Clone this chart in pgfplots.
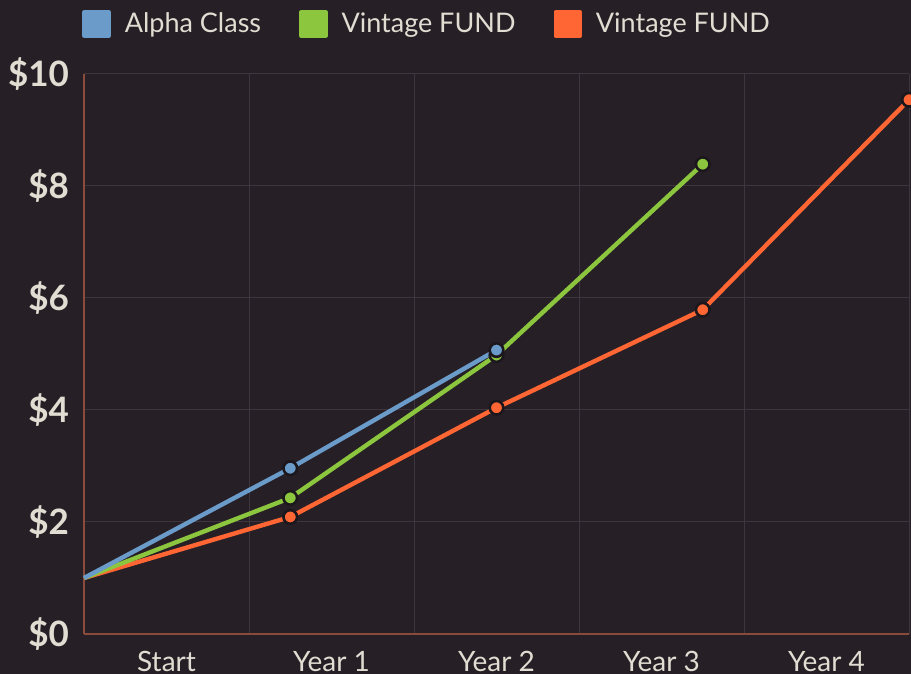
\documentclass[border=0pt]{standalone}
\usepackage{pgfplots}
\pgfplotsset{compat=1.18}
\usepackage{fontspec}
\setmainfont{Lato}
\definecolor{bg}{HTML}{261F26}
\definecolor{gridc}{HTML}{3E353F}
\definecolor{axc}{HTML}{8A4B3C}
\definecolor{txt}{HTML}{E2DDD2}
\definecolor{cblue}{HTML}{6A9BC9}
\definecolor{cgreen}{HTML}{8CC63F}
\definecolor{corange}{HTML}{FF6633}
\definecolor{mk}{HTML}{1C171C}
\begin{document}
\begin{tikzpicture}
\fill[bg] (0,0) rectangle (455.5pt,337pt);
\begin{axis}[
  scale only axis, width=412.5pt, height=280pt,
  at={(42pt,20pt)}, anchor=south west,
  xmin=0, xmax=4, ymin=0, ymax=10,
  axis x line*=bottom, axis y line*=left,
  axis line style={axc, line width=0.8pt, -},
  xtick={0.4,1.2,2.0,2.8,3.6},
  xticklabels={Start, Year 1, Year 2, Year 3, Year 4},
  minor xtick={0,0.8,1.6,2.4,3.2,4},
  xminorgrids=true,
  ytick={0,2,4,6,8,10},
  yticklabels={\$0,\$2,\$4,\$6,\$8,\$10},
  ymajorgrids=true,
  grid style={gridc, line width=0.5pt},
  minor grid style={gridc, line width=0.5pt},
  major tick length=0pt, minor tick length=0pt,
  tick style={draw=none},
  x tick label style={font=\fontsize{14}{16}\selectfont, text=txt, yshift=-5pt},
  y tick label style={font=\fontsize{17.5}{20}\selectfont\bfseries, text=txt, xshift=-4pt},
  clip=false,
  reverse legend,
  legend columns=3,
  legend style={at={(rel axis cs:0,1)}, anchor=west, yshift=25pt, xshift=-1pt,
    draw=none, fill=none, inner sep=0pt, text=txt,
    font=\fontsize{13.5}{15}\selectfont,
    /tikz/every odd column/.append style={column sep=5pt},
    /tikz/every even column/.append style={column sep=17pt}},
  legend image code/.code={\fill (0pt,-6pt) rectangle (12pt,6pt);},
  every axis plot/.append style={line width=2.2pt, line join=round},
]
\addplot[color=corange, mark=*, mark indices={2,3,4,5},
  mark options={draw=mk, fill=corange, line width=1.3pt, mark size=3.4pt}]
  coordinates {(0,1.0) (1,2.09) (2,4.04) (3,5.79) (4,9.54)};
\addlegendentry{Vintage FUND}
\addplot[color=cgreen, mark=*, mark indices={2,3,4},
  mark options={draw=mk, fill=cgreen, line width=1.3pt, mark size=3.4pt}]
  coordinates {(0,1.0) (1,2.43) (2,4.98) (3,8.39)};
\addlegendentry{Vintage FUND}
\addplot[color=cblue, mark=*, mark indices={2,3},
  mark options={draw=mk, fill=cblue, line width=1.3pt, mark size=3.4pt}]
  coordinates {(0,1.0) (1,2.96) (2,5.07)};
\addlegendentry{Alpha Class}
\end{axis}
\pgfresetboundingbox
\useasboundingbox (0,0) rectangle (455.5pt,337pt);
\end{tikzpicture}
\end{document}
